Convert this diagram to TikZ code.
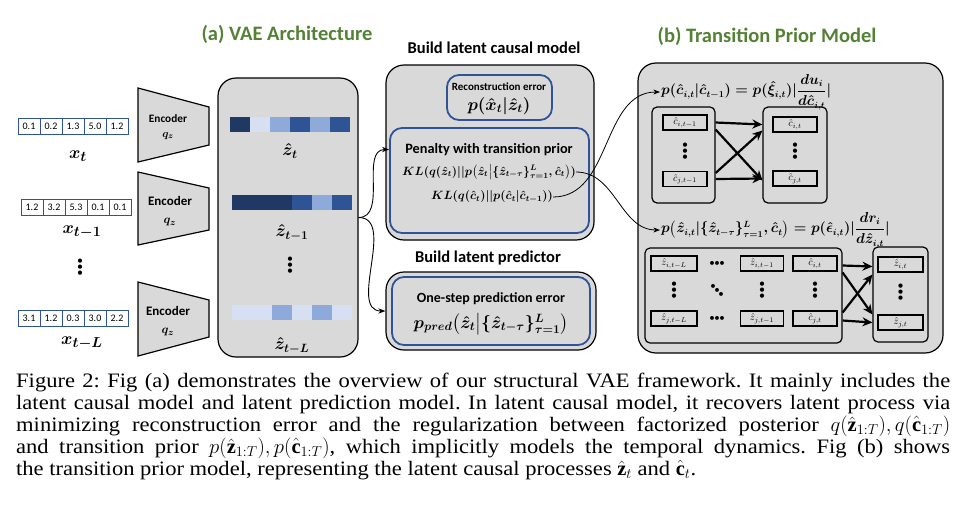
\documentclass[tikz,border=0pt]{standalone}
\usepackage{amsmath,bm}
\usepackage{fontspec}
\setmainfont{Liberation Serif}
\newfontfamily\capfont{Liberation Serif}[FakeStretch=1.1]
\newfontfamily\calibri{Carlito}
\usetikzlibrary{arrows.meta}
\definecolor{vaegreen}{RGB}{84,130,53}
\definecolor{vaeblue}{RGB}{47,84,150}
\definecolor{zdark}{RGB}{31,56,100}
\definecolor{zmid}{RGB}{47,84,150}
\definecolor{zlight}{RGB}{142,170,219}
\definecolor{zpale}{RGB}{214,224,242}
\definecolor{panelgray}{RGB}{217,217,217}
\newcommand{\fsz}[1]{\fontsize{#1}{\dimexpr #1pt*6/5\relax}\selectfont}
\newcommand{\bdotsv}{\vbox{\baselineskip=6pt\lineskiplimit=-10pt\hbox{\textbullet}\hbox{\textbullet}\hbox{\textbullet}}}
\newcommand{\bdotsh}{\textbullet\kern-0.5pt\textbullet\kern-0.5pt\textbullet}
\newcommand{\bdotsd}{\raisebox{5pt}{\textbullet}\kern-1.5pt\raisebox{1pt}{\textbullet}\kern-1.5pt\raisebox{-3pt}{\textbullet}}
\frenchspacing
\begin{document}
\begin{tikzpicture}[x=1pt,y=-1pt,
    box/.style={draw, rounded corners=18pt, fill=panelgray, line width=1.2pt, inner sep=0pt},
    bluebox/.style={draw=vaeblue, rounded corners=12pt, line width=1.8pt, inner sep=0pt},
    cell/.style={draw=vaeblue, line width=1pt, fill=white, minimum width=22pt, minimum height=16pt, inner sep=0pt, font=\calibri\fsz{10}},
    zcell/.style={minimum width=20pt, minimum height=15pt, inner sep=0pt},
    var/.style={draw, line width=1.3pt, minimum height=15pt, inner sep=0pt, font=\fsz{10}},
    group/.style={draw, line width=1.2pt, rounded corners=5pt, inner sep=0pt},
    title/.style={font=\calibri\bfseries\fsz{20.5}, text=vaegreen},
    head/.style={font=\calibri\bfseries\fsz{16.5}},
    flow/.style={-Stealth, line width=0.9pt},
    cross/.style={-{Stealth[length=10pt,width=9pt]}, line width=2.2pt}]
\useasboundingbox[fill=white] (0,0) rectangle (957,507);

% titles
\node[title] (ta) at (287,34) {(a) VAE Architecture};
\node[title] (tb) at (767,36) {(b) Transition Prior Model};
\node[head] (hcausal) at (494,48) {Build latent causal model};
\node[head] (hpred) at (488,258) {Build latent predictor};

% inputs
\def\inA{0.1,0.2,1.3,5.0,1.2}
\def\inB{1.2,3.2,5.3,0.1,0.1}
\def\inC{3.1,1.2,0.3,3.0,2.2}
\foreach \val [count=\i] in \inA {\node[cell] (xa\i) at (7+22*\i,126.5) {\val};}
\foreach \val [count=\i] in \inB {\node[cell] (xb\i) at (10+22*\i,207) {\val};}
\foreach \val [count=\i] in \inC {\node[cell] (xc\i) at (7+22*\i,318) {\val};}
\node[font=\fsz{19}\boldmath] (xt) at (78,156) {$x_t$};
\node[font=\fsz{19}\boldmath] (xt1) at (82,232) {$x_{t-1}$};
\node[font=\calibri\fsz{12}] (xdots) at (80,268) {\bdotsv};
\node[font=\fsz{19}\boldmath] (xtL) at (82,343) {$x_{t-L}$};

% encoders
\foreach \top/\bot/\tin/\bin in {88/162/107/145, 172/245/188/230, 282/356/300/337}
{	\draw[fill=panelgray, line width=1.2pt] (138,\top) -- (209,\tin) -- (209,\bin) -- (138,\bot) -- cycle;
}
\node[font=\calibri\bfseries\fsz{11.3}, align=center] (enc1) at (168,127) {Encoder\\[1pt]{\boldmath$q_z$}};
\node[font=\calibri\bfseries\fsz{13}, align=center] (enc2) at (170,211) {Encoder\\[2pt]{\boldmath$q_z$}};
\node[font=\calibri\bfseries\fsz{13}, align=center] (enc3) at (168,321) {Encoder\\[2pt]{\boldmath$q_z$}};

% latent variables
\node[box, minimum width=140pt, minimum height=279pt] (latent) at (288,217.5) {};
\def\zA{zdark,zpale,zlight,zmid,zlight,zmid}
\def\zB{zdark,zdark,zdark,zmid,zlight,zmid}
\def\zC{zpale,zpale,zlight,zpale,zlight,zpale}
\foreach \c [count=\i] in \zA {\node[zcell, fill=\c] (za\i) at (220+20*\i,124.5) {};}
\foreach \c [count=\i] in \zB {\node[zcell, fill=\c] (zb\i) at (222+20*\i,202.5) {};}
\foreach \c [count=\i] in \zC {\node[zcell, fill=\c] (zc\i) at (222+20*\i,312.5) {};}
\node[font=\fsz{17}\boldmath] (zt) at (290,151) {$\hat{z}_t$};
\node[font=\fsz{17}\boldmath] (zt1) at (292,233) {$\hat{z}_{t-1}$};
\node[font=\calibri\fsz{12}] (zdots) at (290,266) {\bdotsv};
\node[font=\fsz{17}\boldmath] (ztL) at (292,346) {$\hat{z}_{t-L}$};

% latent causal model
\node[box, minimum width=208pt, minimum height=175pt] (causal) at (490,152.5) {};
\node[bluebox, fill=panelgray, minimum width=105pt, minimum height=45pt] (recon) at (499.5,97.5) {};
\node[font=\calibri\bfseries\fsz{11}] (recontxt) at (499,87) {Reconstruction error};
\node[font=\fsz{17}\boldmath] (reconeq) at (499,106) {$p(\hat{x}_t|\hat{z}_t)$};
\node[bluebox, minimum width=199pt, minimum height=105pt] (penalty) at (489.5,180.5) {};
\node[font=\calibri\bfseries\fsz{14.3}] (pentxt) at (489,150) {Penalty with transition prior};
\node[font=\fsz{12}\boldmath, inner sep=0pt] (kla) at (489,172) {$KL(q(\hat{z}_t)||p\bigl(\hat{z}_t\big|\{\hat{z}_{t-\tau}\}_{\tau=1}^{L},\hat{c}_t\bigr))$};
\node[font=\fsz{12}\boldmath, inner sep=0pt] (klb) at (492,197) {$KL(q(\hat{c}_t)||p(\hat{c}_t|\hat{c}_{t-1}))$};

% latent predictor
\node[box, minimum width=210pt, minimum height=78pt] (predout) at (491,311) {};
\node[bluebox, minimum width=198pt, minimum height=68pt] (pred) at (491,311) {};
\node[font=\calibri\bfseries\fsz{14}] (predtxt) at (491,299) {One-step prediction error};
\node[font=\fsz{17}\boldmath] (predeq) at (491,324) {$p_{pred}\bigl(\hat{z}_t\big|\{\hat{z}_{t-\tau}\}_{\tau=1}^{L}\bigr)$};

\draw[flow] (latent.east) to[out=0, in=180] ([yshift=31pt]penalty.west);
\draw[flow] (latent.east) to[out=0, in=180] (predout.west);

% transition prior model
\node[box, minimum width=305pt, minimum height=290pt] (prior) at (790.5,208) {};
\node[font=\fsz{13.5}\boldmath, anchor=west, inner sep=1pt] (fc) at (660,92) {$p(\hat{c}_{i,t}|\hat{c}_{t-1}) = p(\hat{\xi}_{i,t})|\dfrac{du_i}{d\hat{c}_{i,t}}|$};
\node[font=\fsz{13.5}\boldmath, anchor=west, inner sep=1pt] (fz) at (660,230) {$p\bigl(\hat{z}_{i,t}|\{\hat{z}_{t-\tau}\}_{\tau=1}^{L},\hat{c}_t\bigr) = p(\hat{\epsilon}_{i,t})|\dfrac{dr_i}{d\hat{z}_{i,t}}|$};
\draw[flow, line width=0.8pt] (kla.east) to[out=0, in=180] (fz.west);
\draw[flow, line width=0.8pt] (klb.east) to[out=0, in=180] (fc.west);

\node[group, minimum width=63pt, minimum height=96pt] (csub1) at (683.5,155) {};
\node[group, minimum width=64pt, minimum height=96pt] (csub2) at (795,155) {};
\node[var, minimum width=44pt] (ci1) at (685,122.5) {$\hat{c}_{i,t-1}$};
\node[var, minimum width=44pt] (cj1) at (685,179) {$\hat{c}_{j,t-1}$};
\node[var, minimum width=44pt] (ci) at (795,124.5) {$\hat{c}_{i,t}$};
\node[var, minimum width=44pt] (cj) at (795,178.5) {$\hat{c}_{j,t}$};
\node[font=\calibri\fsz{12}] (cd1) at (685,152) {\bdotsv};
\node[font=\calibri\fsz{12}] (cd2) at (795,152) {\bdotsv};
\draw[cross] (ci1.east -| csub1.east) -- (ci.west -| csub2.west);
\draw[cross] (cj1.east -| csub1.east) -- (cj.west -| csub2.west);
\draw[cross] ([yshift=-7pt]ci1.east -| csub1.east) -- ([yshift=-2pt]cj.west -| csub2.west);
\draw[cross] ([yshift=6pt]cj1.east -| csub1.east) -- ([yshift=-6pt]ci.west -| csub2.west);

\node[group, minimum width=197pt, minimum height=95pt] (zsub1) at (743.5,295.5) {};
\node[group, minimum width=55pt, minimum height=95pt] (zsub2) at (900.5,294.5) {};
\def\zrows{i/263.5, j/318.5}
\foreach \r/\y in \zrows
{	\node[var, minimum width=46pt] (z\r L) at (674,\y) {$\hat{z}_{\r,t-L}$};
	\node[var, minimum width=43pt] (z\r 1) at (762,\y) {$\hat{z}_{\r,t-1}$};
	\node[var, minimum width=44pt] (c\r t) at (815,\y) {$\hat{c}_{\r,t}$};
	\node[font=\calibri\fsz{11}] (d\r) at (717,\y) {\bdotsh};
}
\node[font=\calibri\fsz{12}] (vd1) at (674,291) {\bdotsv};
\node[font=\calibri\fsz{11}] (vdd) at (717,291) {\bdotsd};
\node[font=\calibri\fsz{12}] (vd2) at (762,291) {\bdotsv};
\node[font=\calibri\fsz{12}] (vd3) at (815,291) {\bdotsv};
\node[var, minimum width=45pt] (zi) at (900.5,264.5) {$\hat{z}_{i,t}$};
\node[var, minimum width=45pt] (zj) at (900.5,322.5) {$\hat{z}_{j,t}$};
\node[font=\calibri\fsz{12}] (vd4) at (900.5,293) {\bdotsv};
\draw[cross] ([yshift=-2pt]cit.east -| zsub1.east) -- ([yshift=-2pt]zi.west -| zsub2.west);
\draw[cross] ([yshift=-2pt]cjt.east -| zsub1.east) -- (zj.west -| zsub2.west);
\draw[cross] ([yshift=-9pt]cit.east -| zsub1.east) -- ([yshift=8pt]zj.west -| zsub2.west);
\draw[cross] ([yshift=6pt]cjt.east -| zsub1.east) -- ([yshift=-10pt]zi.west -| zsub2.west);

% caption
\node[anchor=north west, inner sep=0pt, text width=934pt, align=justify, font=\capfont\fontsize{20.5}{22}\selectfont] (caption) at (16,373)
{Figure 2: Fig (a) demonstrates the overview of our structural VAE framework. It mainly includes the\linebreak
latent causal model and latent prediction model. In latent causal model, it recovers latent process via\linebreak
minimizing reconstruction error and the regularization between factorized posterior $q(\hat{\mathbf{z}}_{1:T}),q(\hat{\mathbf{c}}_{1:T})$\linebreak
and transition prior $p(\hat{\mathbf{z}}_{1:T}),p(\hat{\mathbf{c}}_{1:T})$, which implicitly models the temporal dynamics. Fig (b) shows\linebreak
the transition prior model, representing the latent causal processes $\hat{\mathbf{z}}_t$ and $\hat{\mathbf{c}}_t$.};
\end{tikzpicture}
\end{document}
